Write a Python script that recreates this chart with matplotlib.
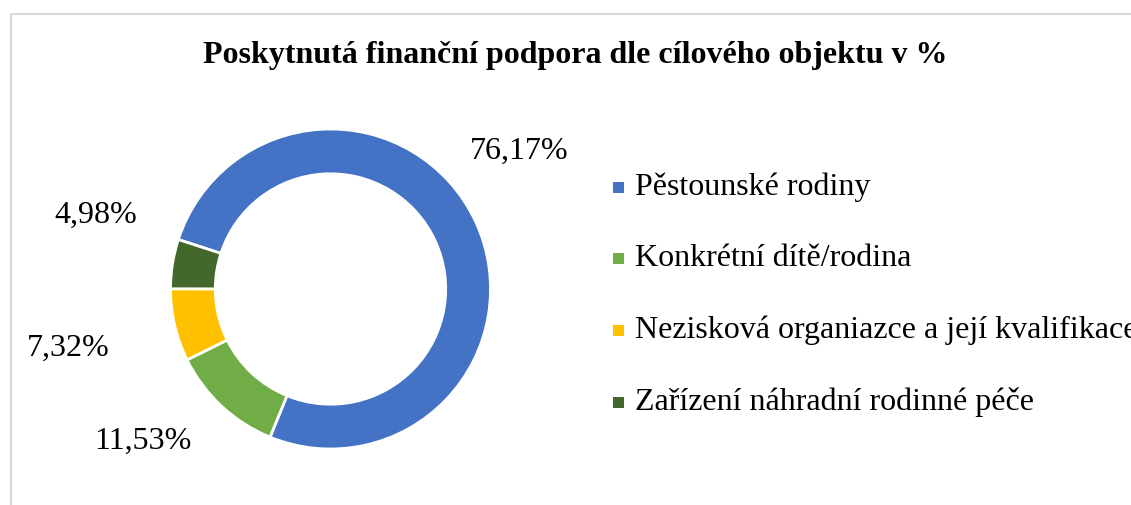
import matplotlib.pyplot as plt
from matplotlib.lines import Line2D
from matplotlib.patches import Rectangle

# data
categories = ["Pěstounské rodiny", "Konkrétní dítě/rodina",
              "Nezisková organiazce a její kvalifikace",
              "Zařízení náhradní rodinné péče"]
values = [76.17, 11.53, 7.32, 4.98]
value_labels = ["76,17%", "11,53%", "7,32%", "4,98%"]
colors = ["#4472C4", "#70AD47", "#FFC000", "#43682B"]

plt.rcParams['font.family'] = ['Liberation Serif', 'DejaVu Serif']

W, H = 1131, 505
fig = plt.figure(figsize=(W / 100, H / 100), dpi=100)

# donut: centre (330, 289) px, outer radius ~160 px
cx, cy, r = 330.5, 289, 160
ax = fig.add_axes([(cx - r) / W, (H - cy - r) / H, 2 * r / W, 2 * r / H])
ax.pie(values, colors=colors, startangle=162, counterclock=False,
       wedgeprops=dict(width=0.28, edgecolor="white", linewidth=2))
ax.set_xlim(-1, 1)
ax.set_ylim(-1, 1)
ax.set_aspect("equal")

# data labels (Excel best-fit positions, in units of the outer radius)
label_pos = [(1.18, 0.86), (-1.175, -0.95), (-1.64, -0.37), (-1.47, 0.46)]
for txt, (x, y) in zip(value_labels, label_pos):
    ax.text(x, y, txt, fontsize=23, ha="center", va="center", clip_on=False)

fig.text(575 / W, 1 - 55 / H, "Poskytnutá finanční podpora dle cílového objektu v %",
         fontsize=23, fontweight="bold", ha="center", va="center")

# legend drawn by hand
for i, (cat, col) in enumerate(zip(categories, colors)):
    y = 187 + i * 71.7
    fig.add_artist(Rectangle((613 / W, 1 - (y + 5.5) / H), 11 / W, 11 / H,
                             transform=fig.transFigure, color=col, lw=0))
    fig.text(635 / W, 1 - y / H, cat, fontsize=23, ha="left", va="center")

# chart area border (right and bottom edges fall outside the image)
fig.add_artist(Line2D([11 / W, 11 / W, 1.01], [-0.01, 1 - 13.5 / H, 1 - 13.5 / H],
                      transform=fig.transFigure, color="#d9d9d9", lw=1.5))

fig.savefig("out.png", dpi=100)
